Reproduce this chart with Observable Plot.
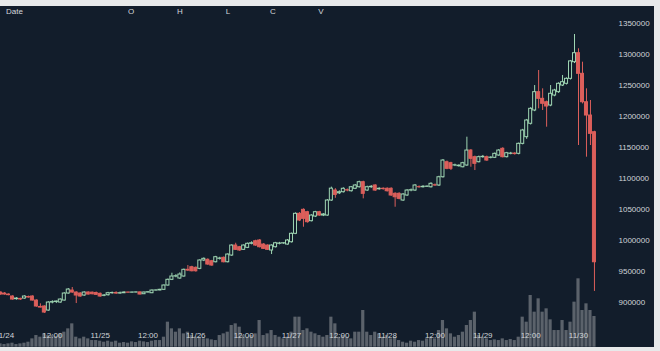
<!DOCTYPE html>
<html>
<head>
<meta charset="utf-8">
<script src="https://cdn.jsdelivr.net/npm/d3@7"></script>
<script src="https://cdn.jsdelivr.net/npm/@observablehq/plot@0.6"></script>
<style>
  html, body { margin: 0; padding: 0; background: #e7e9ea; }
  #wrap { position: relative; width: 660px; height: 351px; overflow: hidden; background: #e7e9ea; font-family: "Liberation Sans", Arial, sans-serif; }
  #panel { position: absolute; left: 0; top: 6px; width: 654px; height: 341px; background: #121d2b; }
  .layer { position: absolute; left: 0; top: 0; }
  #header span { position: absolute; top: 7px; font-size: 8px; color: #d4d8dc; transform: translateX(-50%); }
  #header span.first { transform: none; }
</style>
</head>
<body>
<div id="wrap">
  <div id="panel"></div>
  <div id="vol" class="layer"></div>
  <div id="price" class="layer"></div>
  <div id="header" class="layer"></div>
</div>
<script>
// ---- data (hourly candles, first candle 2017-11-23 23:00) ----
const headerLabels = ["Date", "O", "H", "L", "C", "V"];
const yTicks = [900000, 950000, 1000000, 1050000, 1100000, 1150000, 1200000, 1250000, 1300000, 1350000];
const xTickTimes = ["2017-11-24T00:00Z","2017-11-24T12:00Z","2017-11-25T00:00Z","2017-11-25T12:00Z","2017-11-26T00:00Z","2017-11-26T12:00Z","2017-11-27T00:00Z","2017-11-27T12:00Z","2017-11-28T00:00Z","2017-11-28T12:00Z","2017-11-29T00:00Z","2017-11-29T12:00Z","2017-11-30T00:00Z"];
const xTickLabels = ["11/24","12:00","11/25","12:00","11/26","12:00","11/27","12:00","11/28","12:00","11/29","12:00","11/30"];

const open = [916200,914600,913000,909800,905500,906000,906500,909000,909800,903300,893000,893700,887200,900100,901000,900100,903300,914600,919400,916200,914600,911400,916200,916000,915500,914100,910900,911900,915100,915500,914600,915100,916200,916000,916200,916400,913500,916200,915100,919400,919600,920600,927500,936700,942000,938800,942000,952800,957000,956000,954400,967800,968900,966600,965000,970500,972100,965000,975800,991900,989200,985000,988200,994700,998800,1000000,993500,991900,983900,989200,994700,995200,993500,997200,1010800,1043000,1049400,1045600,1031100,1038600,1045600,1040200,1040200,1064400,1080500,1076000,1077800,1081000,1079400,1083300,1085800,1093900,1080500,1085800,1088600,1082500,1083300,1083300,1083300,1075200,1075200,1064400,1072500,1080500,1080500,1086000,1085800,1086500,1085800,1089000,1088600,1101900,1126100,1124500,1120800,1119700,1118000,1120800,1144900,1134200,1126100,1134200,1134200,1133200,1133200,1136900,1147700,1134200,1139600,1140000,1139600,1155700,1166400,1188000,1209400,1238900,1228200,1222700,1217400,1233500,1238900,1249600,1252400,1260400,1287200,1301700,1268500,1222700,1201300,1174400];
const high = [917000,916000,914000,911000,908000,907000,911000,910500,911000,904500,898000,895000,901500,903000,902500,906000,916000,922700,924300,917500,916000,917500,917500,917000,917000,915500,913000,916500,917000,917500,917000,917500,917000,917000,917200,917200,917000,917500,920500,920500,921500,928500,938000,947300,945000,948000,954000,959700,958500,957500,969000,972000,970500,968000,974500,973000,973500,978500,993000,995600,990500,993000,996000,998000,1000500,1001500,995000,993000,993000,997000,997000,996500,1001500,1012000,1044500,1045000,1051000,1047000,1041500,1047000,1047000,1043500,1066000,1086000,1083500,1080000,1085000,1083000,1087000,1090000,1095500,1095500,1087500,1088500,1090000,1085000,1085000,1085000,1085000,1077000,1077000,1075500,1082000,1083000,1090000,1088000,1088500,1088000,1093000,1091000,1103500,1130500,1128000,1126000,1123000,1122000,1126000,1166400,1146500,1136000,1136000,1137000,1136000,1135000,1141000,1146500,1149500,1142000,1142000,1141500,1157000,1179000,1195000,1214000,1249600,1273800,1244300,1224500,1249600,1243500,1254000,1265800,1262000,1290000,1331800,1308800,1287200,1244300,1225500,1176000];
const low = [912000,912000,911000,904000,904000,903500,905500,907000,902500,892500,891500,882400,886000,898000,898500,899000,902500,913500,915000,898500,908500,910000,912000,912500,911500,908500,909500,910500,913500,913000,913500,914500,915200,915300,915500,912300,913000,915500,914500,918500,918800,919500,926500,935500,940000,937500,941000,950000,949500,949000,953000,966000,960000,958500,964000,968500,964000,964000,974500,984000,982500,984000,987000,993000,990500,988000,985500,984000,977400,988000,993000,994000,992500,996000,1009500,1030500,1021400,1028000,1030000,1037000,1039000,1038500,1039000,1063000,1068000,1074000,1076500,1078500,1078000,1082000,1084500,1067100,1079000,1084000,1079000,1081000,1081000,1078000,1071000,1053600,1065500,1063000,1071000,1078500,1079000,1084000,1084500,1085500,1084500,1087000,1087000,1100500,1114000,1112700,1119000,1118000,1117000,1119500,1118000,1112700,1125000,1132500,1127500,1131500,1132000,1135500,1133000,1133000,1138000,1137500,1138000,1154000,1163000,1186000,1207500,1212100,1209400,1182500,1215500,1231500,1237000,1248000,1250500,1258500,1285000,1153000,1220000,1134200,1153000,918000];
const close = [913000,913000,912000,904900,906500,905000,909800,908200,903300,893700,892000,884000,900100,900800,901700,904900,914600,921000,916200,911400,909800,916200,913000,913500,912500,909800,911400,915100,915500,914600,915100,916200,916000,916200,916400,913000,916200,916700,919400,919600,920600,927500,936700,942000,942500,945200,952800,951600,950500,950500,967800,970500,961300,959700,973100,971000,965000,977400,991900,985000,983900,991900,994700,995600,991900,989200,986600,985000,991900,995600,995200,995600,1000000,1010800,1043000,1032200,1034900,1029500,1040200,1045600,1040200,1041900,1064400,1083500,1073500,1077800,1083300,1080500,1085800,1088600,1093900,1075200,1085800,1086500,1080500,1083300,1082800,1079400,1072500,1069700,1067100,1074100,1080500,1081000,1088600,1085800,1086500,1086800,1091300,1088600,1101900,1128800,1115500,1115500,1121200,1120500,1124500,1144900,1131600,1123500,1134200,1134800,1128800,1133500,1139600,1144900,1134200,1140600,1140000,1139200,1155700,1177200,1193300,1212100,1238900,1228200,1220200,1215800,1236300,1241600,1252400,1255000,1260400,1288500,1301700,1268500,1222700,1201300,1171800,965000];
const volume = [100,80,100,120,80,100,120,150,250,350,300,400,350,350,320,400,450,550,700,300,250,300,250,200,200,180,150,180,150,180,120,140,120,160,140,180,160,140,180,200,200,300,750,550,450,550,400,450,350,300,300,250,250,220,200,350,400,450,650,700,600,350,300,350,400,800,350,400,500,350,300,250,300,450,900,900,500,550,450,400,350,300,350,900,700,300,350,300,250,450,450,1100,450,350,450,400,300,350,250,300,200,150,120,180,150,200,180,250,300,250,500,800,550,400,300,350,450,650,800,1050,350,300,250,200,220,200,250,200,230,200,300,900,750,1550,1050,1450,1050,1150,820,500,500,800,500,750,1350,2050,1100,1300,1100,920];

// ---- build ----
const HOUR = 3600e3;
const t0 = Date.UTC(2017, 10, 23, 23);
const candles = open.map((o, i) => ({
  t: new Date(t0 + i * HOUR), o, h: high[i], l: low[i], c: close[i], v: volume[i]
}));
const GREEN = "#9fd6b3", RED = "#dc5f5b", BG = "#121d2b", VOLC = "#5b626b";
const up = d => d.c >= d.o;
const xTicks = xTickTimes.map(s => new Date(s));
const labelOf = new Map(xTicks.map((d, i) => [+d, xTickLabels[i]]));
const xScale = {
  type: "utc",
  domain: [new Date("2017-11-24T00:00Z"), new Date("2017-11-30T00:00Z")],
  range: [4, 578]
};
const font = "'Liberation Sans', Arial, sans-serif";

const volPlot = Plot.plot({
  width: 660, height: 351, margin: 0,
  style: { background: "transparent", overflow: "hidden" },
  x: { ...xScale, axis: null },
  y: { domain: [0, 2050], range: [346.7, 278.3], axis: null },
  marks: [
    Plot.rectY(candles, {
      x1: d => new Date(+d.t - 0.4 * HOUR),
      x2: d => new Date(+d.t + 0.4 * HOUR),
      y: "v", fill: VOLC
    })
  ]
});
document.getElementById("vol").append(volPlot);

const pricePlot = Plot.plot({
  width: 660, height: 351,
  marginTop: 0, marginLeft: 0, marginRight: 42, marginBottom: 19,
  style: { background: "transparent", color: "#d0d4d8", fontSize: "8px", fontFamily: font, overflow: "hidden" },
  x: { ...xScale },
  y: { domain: [900000, 1350000], range: [302.1, 22.7] },
  color: { type: "identity" },
  marks: [
    Plot.ruleX(candles, { x: "t", y1: "l", y2: "h", stroke: d => up(d) ? GREEN : RED, strokeWidth: 1 }),
    Plot.rect(candles, {
      x1: d => new Date(+d.t - 0.38 * HOUR),
      x2: d => new Date(+d.t + 0.38 * HOUR),
      y1: "o", y2: "c",
      fill: d => up(d) ? BG : RED,
      stroke: d => up(d) ? GREEN : RED,
      strokeWidth: 1
    }),
    Plot.axisY(yTicks, { anchor: "right", tickSize: 0, tickPadding: 0, tickFormat: d => String(d), label: null, fill: "#d0d4d8" }),
    Plot.axisX(xTicks, { anchor: "bottom", tickSize: 0, tickPadding: 0, tickFormat: d => labelOf.get(+d), label: null, fill: "#d0d4d8" })
  ]
});
document.getElementById("price").append(pricePlot);

// header row
const headerX = [6, 131, 180, 228, 273, 321];
const header = document.getElementById("header");
headerLabels.forEach((s, i) => {
  const sp = document.createElement("span");
  sp.textContent = s;
  sp.style.left = headerX[i] + "px";
  if (i === 0) sp.className = "first";
  header.append(sp);
});
</script>
</body>
</html>
